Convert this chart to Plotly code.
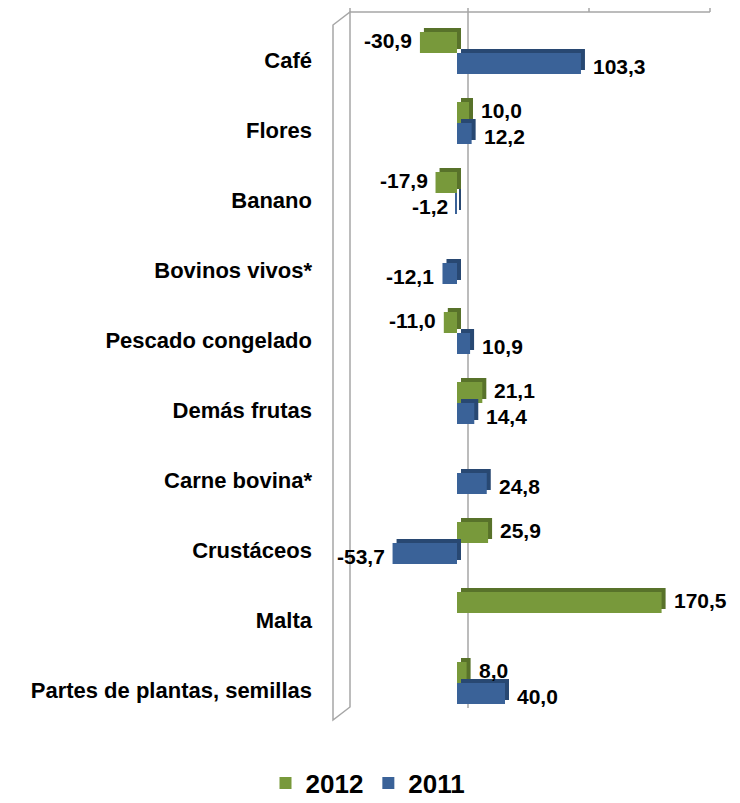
import plotly.graph_objects as go

categories = ["Café", "Flores", "Banano", "Bovinos vivos*", "Pescado congelado",
              "Demás frutas", "Carne bovina*", "Crustáceos", "Malta",
              "Partes de plantas, semillas"]
values_2012 = [-30.9, 10.0, -17.9, None, -11.0, 21.1, None, 25.9, 170.5, 8.0]
values_2011 = [103.3, 12.2, -1.2, -12.1, 10.9, 14.4, 24.8, -53.7, None, 40.0]

GREEN = "#78993B"
BLUE = "#3A6298"
FONT = "Liberation Sans, Arial, sans-serif"

# page has an 8px body margin: figure drawn at (8,8)
W, H = 732, 795
L, T, PW, PH = 329, 17, 360, 700
XMIN, XMAX = -100, 200
DEPTH_X = 4 * (XMAX - XMIN) / PW      # 4 px of 3D depth, in x units
DEPTH_Y = 4 * 10 / PH                 # 4 px of 3D depth, in category units

fig = go.Figure()
annotations = []
series = [("2012", values_2012, GREEN, "#58722A", -0.40, 2),
          ("2011", values_2011, BLUE, "#284872", -0.10, -3)]
for name, vals, col, dark, off, lab_dy in series:
    # depth faces (drawn behind the front face)
    fig.add_trace(go.Bar(
        name=name + " depth", x=vals, y=categories, orientation="h",
        base=DEPTH_X, width=0.30, offset=off - DEPTH_Y,
        marker=dict(color=dark, line=dict(width=0)),
        showlegend=False, hoverinfo="skip",
    ))
    fig.add_trace(go.Bar(
        name=name, x=vals, y=categories, orientation="h",
        width=0.30, offset=off,
        marker=dict(color=col, line=dict(width=0)),
    ))
    center_shift = -(off + 0.15) * PH / 10.0
    for cat, v in zip(categories, vals):
        if v is None:
            continue
        annotations.append(dict(
            x=v, y=cat, xref="x", yref="y",
            text=f"{v:.1f}".replace(".", ","), showarrow=False,
            xanchor="left" if v >= 0 else "right",
            xshift=10 if v >= 0 else -6, yshift=center_shift + lab_dy,
            font=dict(family=FONT, size=21, color="black", weight="bold"),
        ))

# plot area pixel geometry in page coords: x 337..697, y 25..725
def px(x):
    return (x - 8 - L) / PW

def py(y):
    return 1 - (y - 8 - T) / PH

shapes = []
line = dict(color="#A6A6A6", width=1.5)
# left wall
shapes.append(dict(type="path", xref="paper", yref="paper",
                   path=f"M {px(333)},{py(25)} L {px(350)},{py(12)} L {px(350)},{py(707)} L {px(333)},{py(720)} Z",
                   line=line, fillcolor="rgba(0,0,0,0)", layer="below"))
# top back edge
shapes.append(dict(type="line", xref="paper", yref="paper", x0=px(350), x1=px(710),
                   y0=py(12), y1=py(12), line=line))
for gx in [350, 468, 589, 710]:
    shapes.append(dict(type="line", xref="paper", yref="paper", x0=px(gx), x1=px(gx),
                       y0=py(12), y1=py(5), line=line))
# back zero line
shapes.append(dict(type="line", xref="paper", yref="paper", x0=px(468), x1=px(468),
                   y0=py(12), y1=py(708), line=line, layer="below"))

fig.update_layout(
    width=W, height=H,
    margin=dict(l=L, r=W - L - PW, t=T, b=H - T - PH, autoexpand=False),
    paper_bgcolor="white", plot_bgcolor="rgba(0,0,0,0)",
    barmode="overlay",
    font=dict(family=FONT, color="black"),
    showlegend=True,
    legend=dict(orientation="h", xref="container", yref="container",
                x=(368 - 8) / W, xanchor="center", y=1 - (783 - 8) / H, yanchor="middle",
                font=dict(family=FONT, size=26, weight="bold"),
                itemwidth=30, traceorder="normal"),
    xaxis=dict(range=[XMIN, XMAX], showticklabels=False, showgrid=False,
               zeroline=False, showline=False, ticks="", automargin=False),
    yaxis=dict(type="category", categoryorder="array", categoryarray=categories,
               autorange="reversed", showgrid=False, showline=False, ticks="",
               ticklabelstandoff=24, automargin=False,
               tickfont=dict(family=FONT, size=22, weight="bold", color="black")),
    yaxis2=dict(overlaying="y", anchor="free", position=px(453), side="left",
                range=[9.5, -0.5], tickmode="linear", tick0=-0.5, dtick=1,
                showticklabels=False, showgrid=False, zeroline=False, automargin=False,
                showline=True, linecolor="#A6A6A6", linewidth=1.5,
                ticks="outside", ticklen=6, tickcolor="#A6A6A6", tickwidth=1.5),
    shapes=shapes,
    annotations=annotations,
)

fig.write_html("out.html")
